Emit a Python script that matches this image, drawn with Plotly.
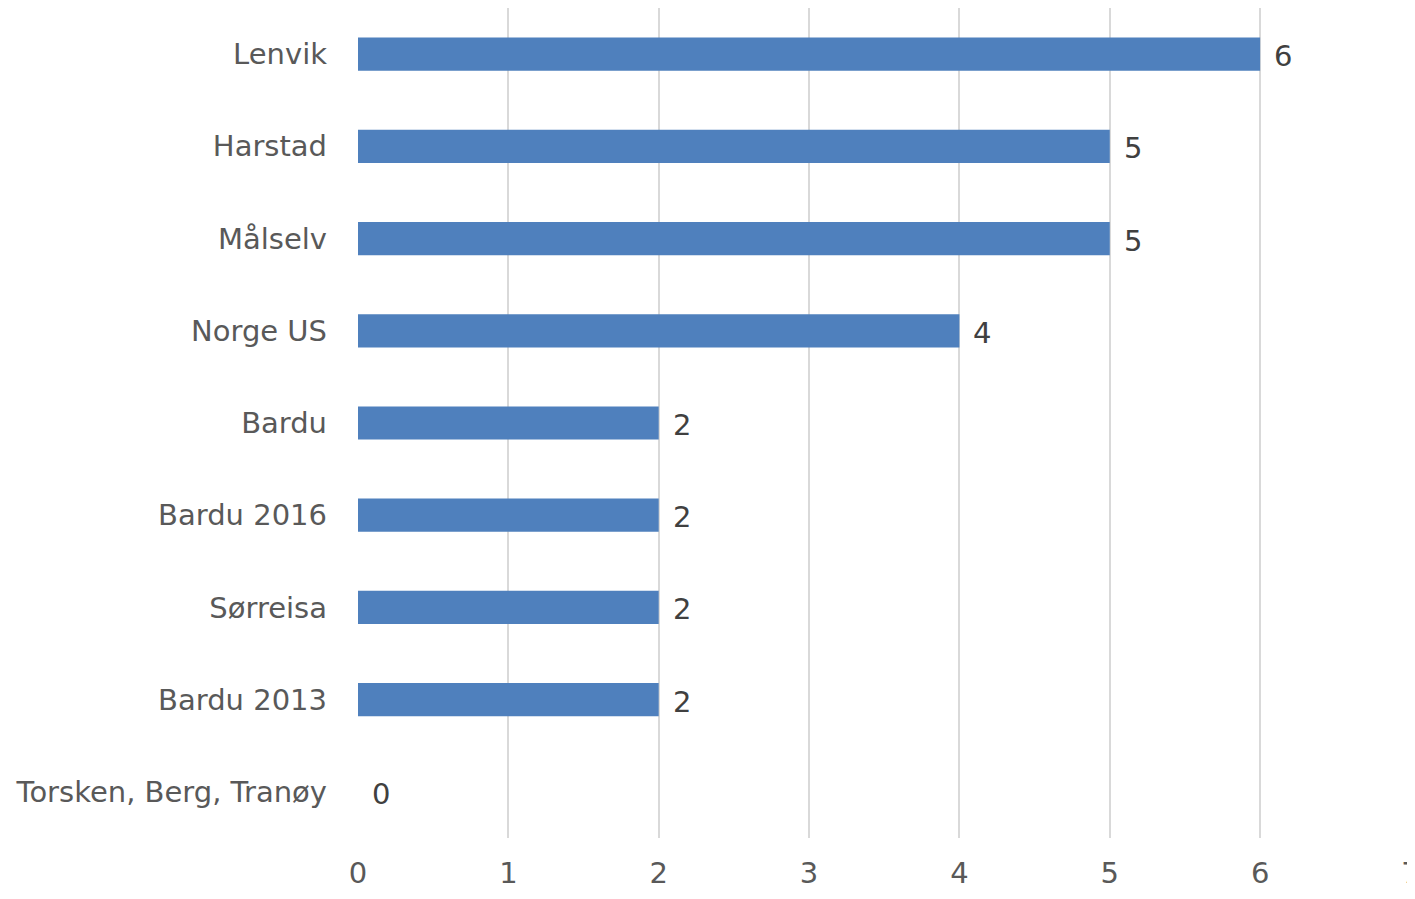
import plotly.graph_objects as go

categories = ["Lenvik", "Harstad", "Målselv", "Norge US", "Bardu", "Bardu 2016",
              "Sørreisa", "Bardu 2013", "Torsken, Berg, Tranøy"]
values = [6, 5, 5, 4, 2, 2, 2, 2, 0]
x_ticks = [0, 1, 2, 3, 4, 5, 6, 7]

FONT = "DejaVu Sans"
FS = 29
fig = go.Figure()
fig.add_trace(go.Bar(
    y=categories, x=values, orientation="h",
    marker=dict(color="#4F80BD", line=dict(width=0)),
    width=0.36, hoverinfo="skip",
))
for c, v in zip(categories, values):
    fig.add_annotation(x=v, y=c, text=str(v), showarrow=False, xanchor="left",
                       xshift=12, yshift=-2, font=dict(family=FONT, size=FS, color="#404040"))

# page body has an 8px margin, so the figure is sized to fit the window without scrollbars
fig.update_layout(
    width=1407, height=883,
    margin=dict(l=350, r=0, t=0, b=53),
    paper_bgcolor="white", plot_bgcolor="white",
    showlegend=False,
    font=dict(family=FONT, size=FS, color="#595959"),
    bargap=0.64,
)
fig.update_xaxes(range=[0, 7.03], tickvals=x_ticks, showgrid=True, gridcolor="#D9D9D9",
                 gridwidth=1.5, zeroline=False, showline=False, ticks="", automargin=False,
                 ticklabeloverflow="allow",
                 tickfont=dict(family=FONT, size=FS, color="#595959"), ticklabelstandoff=15)
fig.update_yaxes(autorange="reversed", showgrid=False, zeroline=False, showline=False,
                 ticks="", ticklabelstandoff=30, automargin=False,
                 tickfont=dict(family=FONT, size=FS, color="#595959"))
fig.write_html("out.html")
